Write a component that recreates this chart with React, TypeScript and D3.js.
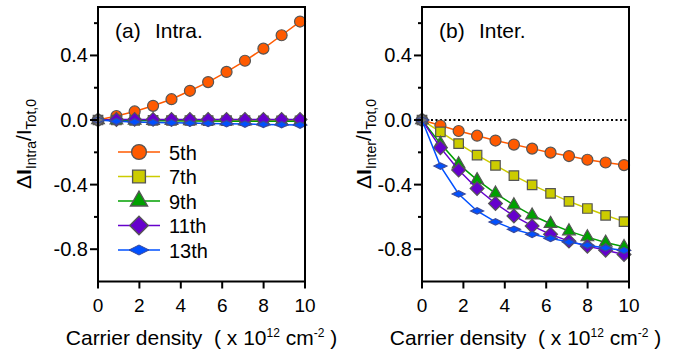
import React, { useEffect, useRef } from "react";
import * as d3 from "d3";

// carrier density (x 10^12 cm^-2)
const density = [0, 0.89, 1.77, 2.66, 3.55, 4.44, 5.32, 6.21, 7.1, 7.99, 8.87, 9.76];

const harmonics = ["5th", "7th", "9th", "11th", "13th"];

// (a) intraband change
const intra5 = [0, 0.025, 0.053, 0.088, 0.129, 0.181, 0.235, 0.298, 0.367, 0.442, 0.525, 0.61];
const intra7 = [0, 0, -0.002, -0.002, -0.003, -0.003, -0.004, -0.004, -0.004, -0.005, -0.005, -0.005];
const intra9 = [0, -0.002, -0.003, -0.004, -0.005, -0.006, -0.006, -0.007, -0.007, -0.008, -0.008, -0.008];
const intra11 = [0, 0.003, 0.004, 0.004, 0.004, 0.004, 0.004, 0.004, 0.004, 0.004, 0.004, 0.004];
const intra13 = [0, -0.008, -0.012, -0.015, -0.017, -0.019, -0.021, -0.023, -0.025, -0.027, -0.029, -0.031];

// (b) interband change
const inter5 = [0, -0.034, -0.068, -0.097, -0.127, -0.152, -0.177, -0.202, -0.223, -0.246, -0.263, -0.279];
const inter7 = [0, -0.073, -0.146, -0.217, -0.281, -0.344, -0.402, -0.454, -0.504, -0.548, -0.59, -0.629];
const inter9 = [0, -0.146, -0.273, -0.371, -0.454, -0.527, -0.59, -0.642, -0.688, -0.725, -0.758, -0.785];
const inter11 = [0, -0.171, -0.31, -0.424, -0.517, -0.594, -0.656, -0.708, -0.75, -0.781, -0.806, -0.833];
const inter13 = [0, -0.285, -0.458, -0.563, -0.631, -0.677, -0.708, -0.733, -0.756, -0.775, -0.792, -0.808];

const xTicks = [0, 2, 4, 6, 8, 10];
const yTicks = [0.4, 0.0, -0.4, -0.8];
const yMinor = [0.6, 0.2, -0.2, -0.6];

const colors = ["#ff5a00", "#cccc00", "#00a000", "#6600cc", "#0050ff"];
const FONT = "Liberation Sans, Arial, sans-serif";

// plain hyphen minus like the original figure
const fmt = (d) => (d < 0 ? "-" : "") + Math.abs(d).toFixed(1);

const App = () => {
  const svgRef = useRef(null);

  useEffect(() => {
    const svg = d3.select(svgRef.current);
    svg.selectAll("*").remove();

    const y = d3.scaleLinear().domain([-1.0, 0.7]).range([281.5, 7]);

    const markerPath = (i) => {
      if (i === 0) return d3.symbol().type(d3.symbolCircle).size(95)();
      if (i === 1) return d3.symbol().type(d3.symbolSquare).size(90)();
      if (i === 2) return d3.symbol().type(d3.symbolTriangle).size(70)();
      if (i === 3) return d3.symbol().type(d3.symbolSquare).size(95)();
      return "M-6.5,0L0,-3.2L6.5,0L0,3.2Z";
    };
    const markerRot = (i) => (i === 3 ? 45 : 0);
    const markerStroke = (i) => (i === 4 ? "#3a4a9a" : "#555");

    const drawPanel = (x0, x1, series, label, name, sub) => {
      const x = d3.scaleLinear().domain([0, 10]).range([x0, x1]);
      const g = svg.append("g");

      // zero reference
      g.append("line")
        .attr("x1", x0).attr("x2", x1)
        .attr("y1", y(0)).attr("y2", y(0))
        .attr("stroke", "#000").attr("stroke-width", 2)
        .attr("stroke-dasharray", "2,2.5");

      series.forEach((vals, si) => {
        const pts = density.map((d, k) => [d, vals[k]]);
        const line = d3.line().x((d) => x(d[0])).y((d) => y(d[1]));
        g.append("path")
          .attr("d", line(pts))
          .attr("fill", "none")
          .attr("stroke", colors[si])
          .attr("stroke-width", 1.5);
        g.selectAll(null)
          .data(pts)
          .enter()
          .append("path")
          .attr("d", markerPath(si))
          .attr("transform", (d) => `translate(${x(d[0])},${y(d[1])}) rotate(${markerRot(si)})`)
          .attr("fill", (d) => (d[0] === 0 ? "#777" : colors[si]))
          .attr("stroke", markerStroke(si))
          .attr("stroke-width", 1.2);
      });

      // frame
      g.append("rect")
        .attr("x", x0).attr("y", y(0.7))
        .attr("width", x1 - x0).attr("height", y(-1.0) - y(0.7))
        .attr("fill", "none").attr("stroke", "#000").attr("stroke-width", 2);

      // x ticks
      g.selectAll(null).data(xTicks).enter().append("line")
        .attr("x1", (d) => x(d)).attr("x2", (d) => x(d))
        .attr("y1", y(-1.0)).attr("y2", y(-1.0) + 7)
        .attr("stroke", "#000").attr("stroke-width", 2);
      g.selectAll(null).data(xTicks).enter().append("text")
        .attr("x", (d) => x(d)).attr("y", 312)
        .attr("text-anchor", "middle")
        .attr("font-family", FONT).attr("font-size", 19)
        .text((d) => d);

      // y ticks
      g.selectAll(null).data(yTicks).enter().append("line")
        .attr("x1", x0 - 8).attr("x2", x0)
        .attr("y1", (d) => y(d)).attr("y2", (d) => y(d))
        .attr("stroke", "#000").attr("stroke-width", 2);
      g.selectAll(null).data(yMinor).enter().append("line")
        .attr("x1", x0 - 4).attr("x2", x0)
        .attr("y1", (d) => y(d)).attr("y2", (d) => y(d))
        .attr("stroke", "#000").attr("stroke-width", 2);
      g.selectAll(null).data(yTicks).enter().append("text")
        .attr("x", x0 - 10).attr("y", (d) => y(d) + 7)
        .attr("text-anchor", "end")
        .attr("font-family", FONT).attr("font-size", 20)
        .text((d) => fmt(d));

      // panel label
      g.append("text").attr("x", x0 + 17).attr("y", 38)
        .attr("font-family", FONT).attr("font-size", 21).text(label);
      g.append("text").attr("x", x0 + 57).attr("y", 38)
        .attr("font-family", FONT).attr("font-size", 21).text(name + ".");

      // x title
      const xt = g.append("text")
        .attr("x", (x0 + x1) / 2).attr("y", 345)
        .attr("text-anchor", "middle")
        .attr("font-family", FONT).attr("font-size", 21)
        .style("white-space", "pre");
      xt.append("tspan").text("Carrier density  ( x 10");
      xt.append("tspan").attr("dy", -8).attr("font-size", 12).text("12");
      xt.append("tspan").attr("dy", 8).text(" cm");
      xt.append("tspan").attr("dy", -8).attr("font-size", 12).text("-2");
      xt.append("tspan").attr("dy", 8).text(" )");

      // y title
      const yt = g.append("text")
        .attr("transform", `translate(${sub},144) rotate(-90)`)
        .attr("text-anchor", "middle")
        .attr("font-family", FONT).attr("font-size", 21);
      yt.append("tspan").text("\u0394");
      yt.append("tspan").attr("font-weight", "bold").text("I");
      yt.append("tspan").attr("dy", 5).attr("font-size", 14).text(name);
      yt.append("tspan").attr("dy", -5).text("/I");
      yt.append("tspan").attr("dy", 5).attr("font-size", 14).text("Tot,0");
    };

    drawPanel(98, 305, [intra5, intra7, intra9, intra11, intra13], "(a)", "Intra", 31);
    drawPanel(422, 629, [inter5, inter7, inter9, inter11, inter13], "(b)", "Inter", 371);

    // legend
    const lg = svg.append("g");
    harmonics.forEach((h, i) => {
      const ly = 152 + i * 24.5;
      lg.append("line")
        .attr("x1", 118).attr("x2", 160).attr("y1", ly).attr("y2", ly)
        .attr("stroke", colors[i]).attr("stroke-width", 1.5);
      lg.append("path")
        .attr("d", i === 4 ? "M-10,0L0,-5L10,0L0,5Z" : markerPath(i))
        .attr("transform", `translate(139,${ly}) rotate(${markerRot(i)}) scale(${i === 4 ? 1 : 1.35})`)
        .attr("fill", colors[i])
        .attr("stroke", markerStroke(i))
        .attr("stroke-width", 1);
      lg.append("text")
        .attr("x", 169).attr("y", ly + 7.5)
        .attr("font-family", FONT).attr("font-size", 20)
        .text(h);
    });
  }, []);

  return (
    <svg
      ref={svgRef}
      width={682}
      height={350}
      style={{ position: "absolute", left: 0, top: 0, background: "#fff" }}
    />
  );
};

export default App;
